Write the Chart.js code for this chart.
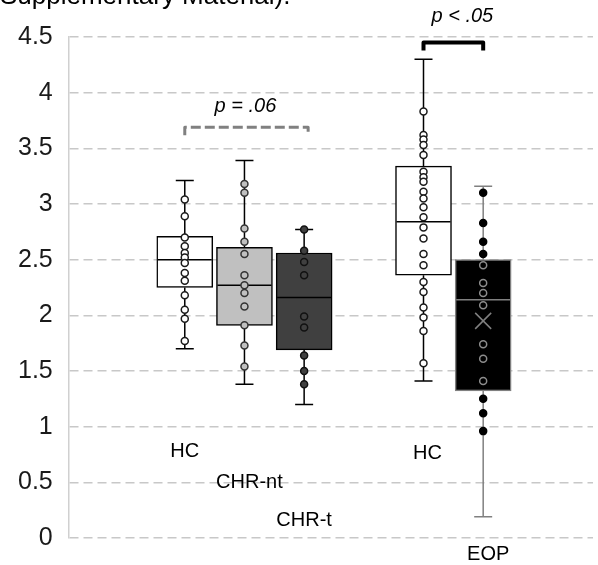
<!DOCTYPE html>
<html>
<head>
<meta charset="utf-8">
<script src="https://cdn.jsdelivr.net/npm/chart.js@4.4.1/dist/chart.umd.min.js"></script>
<style>
  html, body { margin: 0; padding: 0; background: #fff; }
  #wrap { position: relative; width: 598px; height: 565px; overflow: hidden; }
  #caption { position: absolute; left: 0; top: -18px; font: 26px "Liberation Sans", Arial, sans-serif; line-height: 26px; color: #000; white-space: nowrap; }
  canvas { position: absolute; left: 0; top: 0; }
</style>
</head>
<body>
<div id="wrap">
  <canvas id="boxchart" width="598" height="565"></canvas>
  <div id="caption">Supplementary Material).</div>
</div>
<script>
// Gruppen, Index 3 ist nur Abstand zwischen den beiden Blöcken
const categories = ['HC', 'CHR-nt', 'CHR-t', '', 'HC', 'EOP'];
const groupIndex = [0, 1, 2, 4, 5];

// Boxplot-Kennwerte je Gruppe
const whiskerLow  = [1.70, 1.38, 1.20, 1.41, 0.19];
const quart1      = [2.25, 1.91, 1.69, 2.36, 1.32];
const medians     = [2.50, 2.27, 2.16, 2.84, 2.14];
const quart3      = [2.71, 2.61, 2.56, 3.34, 2.50];
const whiskerHigh = [3.21, 3.39, 2.77, 4.30, 3.16];
const means       = [null, null, null, null, 1.95];

// Einzelwerte
const pointsHC1   = [3.04, 2.89, 2.70, 2.62, 2.56, 2.52, 2.47, 2.38, 2.31, 2.18, 2.05, 1.97, 1.77];
const pointsCHRnt = [3.18, 3.10, 2.78, 2.66, 2.55, 2.36, 2.27, 2.20, 2.08, 1.91, 1.73, 1.54];
const pointsCHRt  = [2.77, 2.58, 2.48, 2.36, 1.99, 1.89, 1.64, 1.50, 1.38];
const pointsHC2   = [3.83, 3.62, 3.58, 3.53, 3.44, 3.29, 3.24, 3.20, 3.11, 3.05, 2.97, 2.88, 2.79, 2.69,
                     2.55, 2.45, 2.30, 2.21, 2.07, 1.98, 1.86, 1.57];
const pointsEOP   = [3.10, 2.83, 2.66, 2.55, 2.45, 2.29, 2.20, 2.09, 1.74, 1.61, 1.41, 1.25, 1.12, 0.96];
const allPoints = [pointsHC1, pointsCHRnt, pointsCHRt, pointsHC2, pointsEOP];

// Signifikanz-Angaben
const pLabels = ['p = .06', 'p < .05'];
const pFrom = [0, 4];
const pTo = [2, 5];
const pLevel = [3.69, 4.45];

const yTicks = ['0', '0.5', '1', '1.5', '2', '2.5', '3', '3.5', '4', '4.5'];

const boxFill   = ['#ffffff', '#c0c0c0', '#404040', '#ffffff', '#000000'];
const boxLine   = ['#000000', '#000000', '#000000', '#000000', '#808080'];
const dotFill   = ['#ffffff', '#c0c0c0', '#404040', '#ffffff', '#000000'];
const dotLine   = ['#1a1a1a', '#333333', '#111111', '#1a1a1a', '#000000'];

const fontName = '"Liberation Sans", Arial, sans-serif';

const boxExtras = {
  id: 'boxExtras',
  afterDatasetDraw(chart, args) {
    if (args.index !== 0) return;
    const ctx = chart.ctx, x = chart.scales.x, y = chart.scales.y;
    const bars = chart.getDatasetMeta(0).data;
    groupIndex.forEach((g, i) => {
      const cx = x.getPixelForValue(g);
      const yHi = y.getPixelForValue(whiskerHigh[i]);
      const yLo = y.getPixelForValue(whiskerLow[i]);
      ctx.save();
      ctx.strokeStyle = boxLine[i];
      ctx.lineWidth = 1.5;
      ctx.beginPath();
      ctx.moveTo(cx, y.getPixelForValue(quart3[i])); ctx.lineTo(cx, yHi);
      ctx.moveTo(cx, y.getPixelForValue(quart1[i])); ctx.lineTo(cx, yLo);
      ctx.moveTo(cx - 9, yHi); ctx.lineTo(cx + 9, yHi);
      ctx.moveTo(cx - 9, yLo); ctx.lineTo(cx + 9, yLo);
      const ym = y.getPixelForValue(medians[i]);
      const half = bars[i].width / 2 - 1;
      ctx.moveTo(cx - half, ym); ctx.lineTo(cx + half, ym);
      ctx.stroke();
      if (means[i] !== null) {
        const yMean = y.getPixelForValue(means[i]);
        ctx.beginPath();
        ctx.moveTo(cx - 8, yMean - 8); ctx.lineTo(cx + 8, yMean + 8);
        ctx.moveTo(cx - 8, yMean + 8); ctx.lineTo(cx + 8, yMean - 8);
        ctx.stroke();
      }
      ctx.restore();
    });
  },
  afterDraw(chart, args, opts) {
    const ctx = chart.ctx, x = chart.scales.x, y = chart.scales.y;
    ctx.save();
    // Gruppennamen
    ctx.fillStyle = '#000';
    ctx.font = '20px ' + fontName;
    ctx.textAlign = 'center';
    ctx.textBaseline = 'middle';
    groupIndex.forEach((g, i) => {
      ctx.fillText(categories[g], x.getPixelForValue(g) + opts.labelDx[i], y.getPixelForValue(opts.labelY[i]));
    });
    // Klammern mit p-Werten
    pLabels.forEach((txt, k) => {
      const x0 = x.getPixelForValue(pFrom[k]);
      const x1 = x.getPixelForValue(pTo[k]) + opts.bracketExtra[k];
      const yb = y.getPixelForValue(pLevel[k]);
      ctx.save();
      ctx.strokeStyle = opts.bracketColor[k];
      ctx.lineWidth = opts.bracketWidth[k];
      ctx.lineJoin = 'round';
      ctx.setLineDash(opts.bracketDash[k]);
      ctx.beginPath();
      ctx.moveTo(x0, yb + 8);
      ctx.lineTo(x0, yb);
      ctx.lineTo(x1, yb);
      ctx.lineTo(x1, yb + 8);
      ctx.stroke();
      ctx.restore();
      ctx.font = 'italic 20px ' + fontName;
      ctx.fillText(txt, (x0 + x1) / 2 + opts.textDx[k], yb - opts.textUp[k]);
    });
    ctx.restore();
  }
};

const boxData = groupIndex.map((g, i) => ({ x: g, y: [quart1[i], quart3[i]] }));

const pointSets = allPoints.map((vals, i) => ({
  type: 'scatter',
  order: 0,
  data: vals.map(v => ({ x: groupIndex[i], y: v })),
  pointRadius: 3.5,
  pointHoverRadius: 3.5,
  pointBorderWidth: 1.5,
  backgroundColor: dotFill[i],
  borderColor: i === 4
    ? ctx => {
        const v = ctx.raw ? ctx.raw.y : 0;
        return (v > quart1[i] && v < quart3[i]) ? '#8c8c8c' : dotLine[i];
      }
    : dotLine[i]
}));

new Chart(document.getElementById('boxchart'), {
  type: 'bar',
  data: {
    datasets: [{
      order: 5,
      data: boxData,
      backgroundColor: boxFill,
      borderColor: boxLine,
      borderWidth: 1.5,
      borderSkipped: false,
      barThickness: 56
    }].concat(pointSets)
  },
  options: {
    responsive: false,
    animation: false,
    layout: { padding: { left: 2, right: 0, top: 37, bottom: 27 } },
    plugins: {
      legend: { display: false },
      tooltip: { enabled: false },
      boxExtras: {
        labelY: [0.78, 0.50, 0.16, 0.76, -0.15],
        labelDx: [0, 5, 0, 4, 5],
        bracketExtra: [4, 0],
        bracketColor: ['#808080', '#000000'],
        bracketWidth: [3, 4],
        bracketDash: [[10, 4], []],
        textDx: [-1, 9],
        textUp: [21, 26]
      }
    },
    scales: {
      x: {
        type: 'linear',
        display: false,
        offset: false,
        min: -1.944,
        max: 6.84
      },
      y: {
        min: 0,
        max: 4.5,
        ticks: {
          stepSize: 0.5,
          padding: 16,
          color: '#1a1a1a',
          font: { family: fontName, size: 25, lineHeight: 0.8 },
          callback: (v, idx) => yTicks[idx]
        },
        grid: { color: '#c8c8c8', lineWidth: 1.5, drawTicks: false },
        border: { display: true, color: '#d0d0d0', width: 1.5, dash: [9, 5] }
      }
    }
  },
  plugins: [boxExtras]
});
</script>
</body>
</html>
